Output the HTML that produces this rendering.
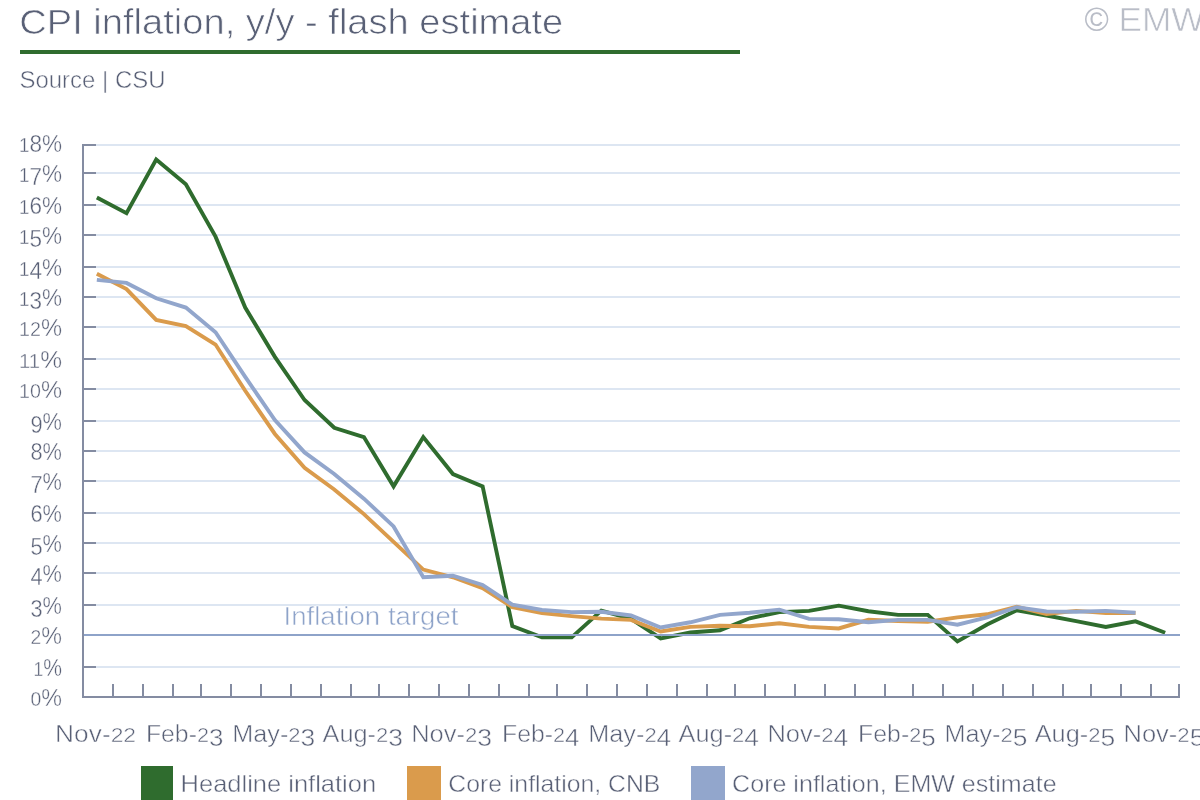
<!DOCTYPE html>
<html><head><meta charset="utf-8"><title>CPI inflation</title>
<style>
html,body{margin:0;padding:0;background:#fff;}
body{width:1200px;height:800px;overflow:hidden;}
svg{display:block;will-change:transform;}
text{font-family:"Liberation Sans",sans-serif;}
.thin{stroke:#fff;stroke-width:0.7px;paint-order:fill;}
</style></head><body>
<svg width="1200" height="800" viewBox="0 0 1200 800">
<rect x="0" y="0" width="1200" height="800" fill="#fff"/>

<text class="thin" x="19.3" y="33.6" font-size="35.5" fill="#596076" textLength="544" lengthAdjust="spacingAndGlyphs">CPI inflation, y/y - flash estimate</text>
<rect x="20" y="50" width="720" height="4" fill="#2f6c2e"/>
<text class="thin" style="stroke-width:0.5px" x="19.5" y="88.4" font-size="23.8" fill="#596076" textLength="146" lengthAdjust="spacingAndGlyphs">Source | CSU</text>
<text x="1084.5" y="31.2" font-size="33" fill="#b9bdc7">©</text>
<text class="thin" style="stroke-width:0.6px" x="1118.5" y="30.6" font-size="32.5" fill="#b9bdc7" textLength="86" lengthAdjust="spacingAndGlyphs">EMW</text>
<g shape-rendering="crispEdges"><rect x="96" y="144" width="1084" height="2" fill="#dde6f2"/><rect x="84" y="144" width="12" height="2" fill="#848ca2"/><rect x="96" y="172" width="1084" height="2" fill="#dde6f2"/><rect x="84" y="172" width="12" height="2" fill="#848ca2"/><rect x="96" y="204" width="1084" height="2" fill="#dde6f2"/><rect x="84" y="204" width="12" height="2" fill="#848ca2"/><rect x="96" y="234" width="1084" height="2" fill="#dde6f2"/><rect x="84" y="234" width="12" height="2" fill="#848ca2"/><rect x="96" y="266" width="1084" height="2" fill="#dde6f2"/><rect x="84" y="266" width="12" height="2" fill="#848ca2"/><rect x="96" y="296" width="1084" height="2" fill="#dde6f2"/><rect x="84" y="296" width="12" height="2" fill="#848ca2"/><rect x="96" y="326" width="1084" height="2" fill="#dde6f2"/><rect x="84" y="326" width="12" height="2" fill="#848ca2"/><rect x="96" y="358" width="1084" height="2" fill="#dde6f2"/><rect x="84" y="358" width="12" height="2" fill="#848ca2"/><rect x="96" y="388" width="1084" height="2" fill="#dde6f2"/><rect x="84" y="388" width="12" height="2" fill="#848ca2"/><rect x="96" y="420" width="1084" height="2" fill="#dde6f2"/><rect x="84" y="420" width="12" height="2" fill="#848ca2"/><rect x="96" y="450" width="1084" height="2" fill="#dde6f2"/><rect x="84" y="450" width="12" height="2" fill="#848ca2"/><rect x="96" y="480" width="1084" height="2" fill="#dde6f2"/><rect x="84" y="480" width="12" height="2" fill="#848ca2"/><rect x="96" y="512" width="1084" height="2" fill="#dde6f2"/><rect x="84" y="512" width="12" height="2" fill="#848ca2"/><rect x="96" y="542" width="1084" height="2" fill="#dde6f2"/><rect x="84" y="542" width="12" height="2" fill="#848ca2"/><rect x="96" y="572" width="1084" height="2" fill="#dde6f2"/><rect x="84" y="572" width="12" height="2" fill="#848ca2"/><rect x="96" y="604" width="1084" height="2" fill="#dde6f2"/><rect x="84" y="604" width="12" height="2" fill="#848ca2"/><rect x="96" y="666" width="1084" height="2" fill="#dde6f2"/><rect x="84" y="666" width="12" height="2" fill="#848ca2"/><rect x="96" y="696" width="1084" height="2" fill="#dde6f2"/><rect x="84" y="696" width="12" height="2" fill="#848ca2"/></g>
<text class="thin" style="stroke-width:0.4px" x="62" y="151.9" fill="#596076" text-anchor="end" textLength="43" lengthAdjust="spacingAndGlyphs"><tspan font-size="19.5">1</tspan><tspan font-size="23.5">8</tspan><tspan font-size="23.5">%</tspan></text><text class="thin" style="stroke-width:0.4px" x="62" y="181.7" fill="#596076" text-anchor="end" textLength="43" lengthAdjust="spacingAndGlyphs"><tspan font-size="19.5">1</tspan><tspan dy="3" font-size="23.5">7</tspan><tspan dy="-3" font-size="23.5">%</tspan></text><text class="thin" style="stroke-width:0.4px" x="62" y="213.7" fill="#596076" text-anchor="end" textLength="43" lengthAdjust="spacingAndGlyphs"><tspan font-size="19.5">1</tspan><tspan font-size="23.5">6</tspan><tspan font-size="23.5">%</tspan></text><text class="thin" style="stroke-width:0.4px" x="62" y="243.7" fill="#596076" text-anchor="end" textLength="43" lengthAdjust="spacingAndGlyphs"><tspan font-size="19.5">1</tspan><tspan dy="3" font-size="23.5">5</tspan><tspan dy="-3" font-size="23.5">%</tspan></text><text class="thin" style="stroke-width:0.4px" x="62" y="275.7" fill="#596076" text-anchor="end" textLength="43" lengthAdjust="spacingAndGlyphs"><tspan font-size="19.5">1</tspan><tspan dy="3" font-size="23.5">4</tspan><tspan dy="-3" font-size="23.5">%</tspan></text><text class="thin" style="stroke-width:0.4px" x="62" y="305.7" fill="#596076" text-anchor="end" textLength="43" lengthAdjust="spacingAndGlyphs"><tspan font-size="19.5">1</tspan><tspan dy="3" font-size="23.5">3</tspan><tspan dy="-3" font-size="23.5">%</tspan></text><text class="thin" style="stroke-width:0.4px" x="62" y="335.7" fill="#596076" text-anchor="end" textLength="43" lengthAdjust="spacingAndGlyphs"><tspan font-size="19.5">1</tspan><tspan font-size="19.5">2</tspan><tspan font-size="23.5">%</tspan></text><text class="thin" style="stroke-width:0.4px" x="62" y="367.7" fill="#596076" text-anchor="end" textLength="43" lengthAdjust="spacingAndGlyphs"><tspan font-size="19.5">1</tspan><tspan font-size="19.5">1</tspan><tspan font-size="23.5">%</tspan></text><text class="thin" style="stroke-width:0.4px" x="62" y="397.7" fill="#596076" text-anchor="end" textLength="43" lengthAdjust="spacingAndGlyphs"><tspan font-size="19.5">1</tspan><tspan font-size="19.5">0</tspan><tspan font-size="23.5">%</tspan></text><text class="thin" style="stroke-width:0.4px" x="62" y="429.7" fill="#596076" text-anchor="end" textLength="31.5" lengthAdjust="spacingAndGlyphs"><tspan dy="3" font-size="23.5">9</tspan><tspan dy="-3" font-size="23.5">%</tspan></text><text class="thin" style="stroke-width:0.4px" x="62" y="459.7" fill="#596076" text-anchor="end" textLength="31.5" lengthAdjust="spacingAndGlyphs"><tspan font-size="23.5">8</tspan><tspan font-size="23.5">%</tspan></text><text class="thin" style="stroke-width:0.4px" x="62" y="489.7" fill="#596076" text-anchor="end" textLength="31.5" lengthAdjust="spacingAndGlyphs"><tspan dy="3" font-size="23.5">7</tspan><tspan dy="-3" font-size="23.5">%</tspan></text><text class="thin" style="stroke-width:0.4px" x="62" y="521.7" fill="#596076" text-anchor="end" textLength="31.5" lengthAdjust="spacingAndGlyphs"><tspan font-size="23.5">6</tspan><tspan font-size="23.5">%</tspan></text><text class="thin" style="stroke-width:0.4px" x="62" y="551.7" fill="#596076" text-anchor="end" textLength="31.5" lengthAdjust="spacingAndGlyphs"><tspan dy="3" font-size="23.5">5</tspan><tspan dy="-3" font-size="23.5">%</tspan></text><text class="thin" style="stroke-width:0.4px" x="62" y="581.7" fill="#596076" text-anchor="end" textLength="31.5" lengthAdjust="spacingAndGlyphs"><tspan dy="3" font-size="23.5">4</tspan><tspan dy="-3" font-size="23.5">%</tspan></text><text class="thin" style="stroke-width:0.4px" x="62" y="613.7" fill="#596076" text-anchor="end" textLength="31.5" lengthAdjust="spacingAndGlyphs"><tspan dy="3" font-size="23.5">3</tspan><tspan dy="-3" font-size="23.5">%</tspan></text><text class="thin" style="stroke-width:0.4px" x="62" y="643.7" fill="#596076" text-anchor="end" textLength="31.5" lengthAdjust="spacingAndGlyphs"><tspan font-size="19.5">2</tspan><tspan font-size="23.5">%</tspan></text><text class="thin" style="stroke-width:0.4px" x="62" y="675.7" fill="#596076" text-anchor="end" textLength="28.5" lengthAdjust="spacingAndGlyphs"><tspan font-size="19.5">1</tspan><tspan font-size="23.5">%</tspan></text><text class="thin" style="stroke-width:0.4px" x="62" y="705.7" fill="#596076" text-anchor="end" textLength="31.5" lengthAdjust="spacingAndGlyphs"><tspan font-size="19.5">0</tspan><tspan font-size="23.5">%</tspan></text>
<g shape-rendering="crispEdges"><rect x="82" y="144" width="2" height="554" fill="#848ca2"/><rect x="82" y="696" width="1098" height="2" fill="#848ca2"/><rect x="112" y="684" width="2" height="13" fill="#848ca2"/><rect x="142" y="684" width="2" height="13" fill="#848ca2"/><rect x="172" y="684" width="2" height="13" fill="#848ca2"/><rect x="200" y="684" width="2" height="13" fill="#848ca2"/><rect x="230" y="684" width="2" height="13" fill="#848ca2"/><rect x="260" y="684" width="2" height="13" fill="#848ca2"/><rect x="290" y="684" width="2" height="13" fill="#848ca2"/><rect x="320" y="684" width="2" height="13" fill="#848ca2"/><rect x="350" y="684" width="2" height="13" fill="#848ca2"/><rect x="378" y="684" width="2" height="13" fill="#848ca2"/><rect x="408" y="684" width="2" height="13" fill="#848ca2"/><rect x="438" y="684" width="2" height="13" fill="#848ca2"/><rect x="468" y="684" width="2" height="13" fill="#848ca2"/><rect x="498" y="684" width="2" height="13" fill="#848ca2"/><rect x="528" y="684" width="2" height="13" fill="#848ca2"/><rect x="556" y="684" width="2" height="13" fill="#848ca2"/><rect x="586" y="684" width="2" height="13" fill="#848ca2"/><rect x="616" y="684" width="2" height="13" fill="#848ca2"/><rect x="646" y="684" width="2" height="13" fill="#848ca2"/><rect x="676" y="684" width="2" height="13" fill="#848ca2"/><rect x="706" y="684" width="2" height="13" fill="#848ca2"/><rect x="734" y="684" width="2" height="13" fill="#848ca2"/><rect x="764" y="684" width="2" height="13" fill="#848ca2"/><rect x="794" y="684" width="2" height="13" fill="#848ca2"/><rect x="824" y="684" width="2" height="13" fill="#848ca2"/><rect x="854" y="684" width="2" height="13" fill="#848ca2"/><rect x="884" y="684" width="2" height="13" fill="#848ca2"/><rect x="912" y="684" width="2" height="13" fill="#848ca2"/><rect x="942" y="684" width="2" height="13" fill="#848ca2"/><rect x="972" y="684" width="2" height="13" fill="#848ca2"/><rect x="1002" y="684" width="2" height="13" fill="#848ca2"/><rect x="1032" y="684" width="2" height="13" fill="#848ca2"/><rect x="1062" y="684" width="2" height="13" fill="#848ca2"/><rect x="1090" y="684" width="2" height="13" fill="#848ca2"/><rect x="1120" y="684" width="2" height="13" fill="#848ca2"/><rect x="1150" y="684" width="2" height="13" fill="#848ca2"/><rect x="1178" y="684" width="2" height="13" fill="#848ca2"/></g>
<text class="thin" style="stroke-width:0.5px" x="55.1" y="741.7" font-size="23" fill="#596076" textLength="81" lengthAdjust="spacingAndGlyphs">Nov-<tspan font-size="20">2</tspan><tspan font-size="20">2</tspan></text><text class="thin" style="stroke-width:0.5px" x="145.9" y="741.7" font-size="23" fill="#596076" textLength="77.5" lengthAdjust="spacingAndGlyphs">Feb-<tspan font-size="20">2</tspan><tspan dy="3.8" font-size="24">3</tspan></text><text class="thin" style="stroke-width:0.5px" x="232.2" y="741.7" font-size="23" fill="#596076" textLength="83" lengthAdjust="spacingAndGlyphs">May-<tspan font-size="20">2</tspan><tspan dy="3.8" font-size="24">3</tspan></text><text class="thin" style="stroke-width:0.5px" x="322.5" y="741.7" font-size="23" fill="#596076" textLength="80.5" lengthAdjust="spacingAndGlyphs">Aug-<tspan font-size="20">2</tspan><tspan dy="3.8" font-size="24">3</tspan></text><text class="thin" style="stroke-width:0.5px" x="411.2" y="741.7" font-size="23" fill="#596076" textLength="81" lengthAdjust="spacingAndGlyphs">Nov-<tspan font-size="20">2</tspan><tspan dy="3.8" font-size="24">3</tspan></text><text class="thin" style="stroke-width:0.5px" x="502.0" y="741.7" font-size="23" fill="#596076" textLength="77.5" lengthAdjust="spacingAndGlyphs">Feb-<tspan font-size="20">2</tspan><tspan dy="3.8" font-size="24">4</tspan></text><text class="thin" style="stroke-width:0.5px" x="588.3" y="741.7" font-size="23" fill="#596076" textLength="83" lengthAdjust="spacingAndGlyphs">May-<tspan font-size="20">2</tspan><tspan dy="3.8" font-size="24">4</tspan></text><text class="thin" style="stroke-width:0.5px" x="678.6" y="741.7" font-size="23" fill="#596076" textLength="80.5" lengthAdjust="spacingAndGlyphs">Aug-<tspan font-size="20">2</tspan><tspan dy="3.8" font-size="24">4</tspan></text><text class="thin" style="stroke-width:0.5px" x="767.4" y="741.7" font-size="23" fill="#596076" textLength="81" lengthAdjust="spacingAndGlyphs">Nov-<tspan font-size="20">2</tspan><tspan dy="3.8" font-size="24">4</tspan></text><text class="thin" style="stroke-width:0.5px" x="858.1" y="741.7" font-size="23" fill="#596076" textLength="77.5" lengthAdjust="spacingAndGlyphs">Feb-<tspan font-size="20">2</tspan><tspan dy="3.8" font-size="24">5</tspan></text><text class="thin" style="stroke-width:0.5px" x="944.4" y="741.7" font-size="23" fill="#596076" textLength="83" lengthAdjust="spacingAndGlyphs">May-<tspan font-size="20">2</tspan><tspan dy="3.8" font-size="24">5</tspan></text><text class="thin" style="stroke-width:0.5px" x="1034.7" y="741.7" font-size="23" fill="#596076" textLength="80.5" lengthAdjust="spacingAndGlyphs">Aug-<tspan font-size="20">2</tspan><tspan dy="3.8" font-size="24">5</tspan></text><text class="thin" style="stroke-width:0.5px" x="1123.5" y="741.7" font-size="23" fill="#596076" textLength="81" lengthAdjust="spacingAndGlyphs">Nov-<tspan font-size="20">2</tspan><tspan dy="3.8" font-size="24">5</tspan></text>
<polyline points="96.84,197.51 126.51,213.23 156.19,159.59 185.86,184.26 215.54,236.66 245.22,307.56 274.89,356.88 304.57,400.04 334.24,427.78 363.92,437.03 393.59,486.35 423.27,437.03 452.95,474.02 482.62,486.35 512.30,625.99 541.97,637.40 571.65,637.40 601.32,610.58 631.00,618.90 660.68,638.32 690.35,632.47 720.03,630.31 749.70,618.29 779.38,612.12 809.05,610.89 838.73,605.65 868.41,611.20 898.08,614.90 927.76,614.90 957.43,641.41 987.11,624.45 1016.78,610.27 1046.46,615.51 1076.14,621.06 1105.81,626.92 1135.49,621.37 1165.16,632.77" fill="none" stroke="#2f6c2e" stroke-width="3.9" stroke-linejoin="miter" stroke-miterlimit="10"/>
<polyline points="96.84,273.65 126.51,289.06 156.19,319.89 185.86,326.06 215.54,344.55 245.22,390.79 274.89,433.95 304.57,467.85 334.24,489.43 363.92,514.09 393.59,541.84 423.27,569.58 452.95,577.29 482.62,588.08 512.30,607.19 541.97,613.05 571.65,616.13 601.32,618.59 631.00,619.83 660.68,631.54 690.35,626.92 720.03,625.68 749.70,626.30 779.38,623.22 809.05,626.92 838.73,628.46 868.41,619.83 898.08,621.06 927.76,621.68 957.43,617.36 987.11,614.28 1016.78,606.88 1046.46,613.97 1076.14,610.89 1105.81,613.05 1135.49,613.05" fill="none" stroke="#da9b4c" stroke-width="3.9" stroke-linejoin="miter" stroke-miterlimit="10"/>
<polyline points="96.84,279.82 126.51,282.90 156.19,298.31 185.86,307.56 215.54,332.22 245.22,376.92 274.89,420.07 304.57,452.44 334.24,474.02 363.92,498.68 393.59,526.42 423.27,577.29 452.95,575.75 482.62,584.99 512.30,604.72 541.97,609.96 571.65,612.12 601.32,611.81 631.00,615.51 660.68,627.53 690.35,622.29 720.03,614.90 749.70,612.74 779.38,609.65 809.05,618.90 838.73,619.21 868.41,622.29 898.08,619.83 927.76,619.83 957.43,624.76 987.11,617.36 1016.78,607.19 1046.46,611.50 1076.14,611.81 1105.81,610.89 1135.49,612.74" fill="none" stroke="#92a6cc" stroke-width="3.9" stroke-linejoin="miter" stroke-miterlimit="10"/>
<rect x="84" y="634" width="1096" height="2" fill="#8ea3c9" shape-rendering="crispEdges"/>
<text class="thin" style="stroke-width:0.55px" x="283.5" y="625" font-size="26" fill="#8ea3c9" textLength="175" lengthAdjust="spacingAndGlyphs">Inflation target</text>
<rect x="141" y="766" width="32" height="34" fill="#2f6c2e"/>
<text x="180.6" y="791.75" class="thin" style="stroke-width:0.45px" font-size="24" fill="#596076" textLength="195.5" lengthAdjust="spacingAndGlyphs">Headline inflation</text>
<rect x="407" y="766" width="34" height="34" fill="#da9b4c"/>
<text x="448.3" y="791.75" class="thin" style="stroke-width:0.45px" font-size="24" fill="#596076" textLength="212" lengthAdjust="spacingAndGlyphs">Core inflation, CNB</text>
<rect x="691" y="766" width="34" height="34" fill="#92a6cc"/>
<text x="732.1" y="791.75" class="thin" style="stroke-width:0.45px" font-size="24" fill="#596076" textLength="324.5" lengthAdjust="spacingAndGlyphs">Core inflation, EMW estimate</text>
</svg></body></html>
